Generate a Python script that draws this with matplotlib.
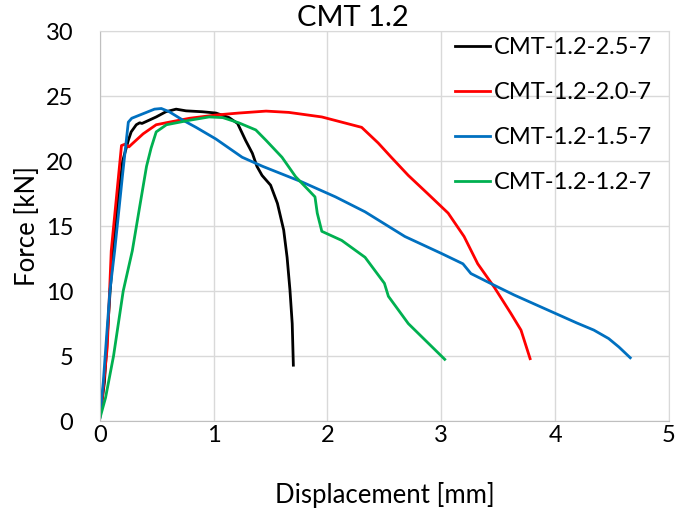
import matplotlib
matplotlib.use("Agg")
import matplotlib.pyplot as plt

plt.rcParams['font.family'] = ['Lato', 'DejaVu Sans']

title = "CMT 1.2"
xlabel = "Displacement [mm]"
ylabel = "Force [kN]"

labels = ["CMT-1.2-2.5-7", "CMT-1.2-2.0-7", "CMT-1.2-1.5-7", "CMT-1.2-1.2-7"]
colors = ["#000000", "#ff0000", "#0070c0", "#00b050"]

black_x = [0.0, 0.04, 0.09, 0.14, 0.2, 0.25, 0.275, 0.32, 0.35, 0.37, 0.42, 0.495, 0.58, 0.67, 0.757,
           0.9, 1.02, 1.135, 1.21, 1.28, 1.34, 1.38, 1.425, 1.5, 1.56, 1.615, 1.645, 1.67, 1.69, 1.70]
black_y = [0.3, 3.0, 10.0, 15.5, 20.0, 21.6, 22.25, 22.8, 22.95, 22.9, 23.1, 23.4, 23.8, 24.0, 23.87,
           23.8, 23.7, 23.35, 22.9, 21.6, 20.6, 19.6, 18.9, 18.15, 16.75, 14.7, 12.6, 10.1, 7.5, 4.3]

red_x = [0.0, 0.02, 0.065, 0.1, 0.19, 0.22, 0.256, 0.28, 0.38, 0.495, 0.61, 0.79, 1.02, 1.22, 1.46,
         1.66, 1.95, 2.3, 2.445, 2.56, 2.71, 2.88, 3.06, 3.2, 3.32, 3.465, 3.61, 3.7, 3.78]
red_y = [0.5, 1.6, 5.7, 13.1, 21.2, 21.3, 21.1, 21.3, 22.1, 22.8, 23.0, 23.3, 23.55, 23.7, 23.85,
         23.75, 23.4, 22.6, 21.4, 20.3, 18.9, 17.5, 16.0, 14.2, 12.1, 10.3, 8.3, 7.0, 4.8]

blue_x = [0.0, 0.03, 0.088, 0.13, 0.2, 0.25, 0.28, 0.38, 0.48, 0.54, 0.61, 0.73, 0.845, 1.02, 1.25,
          1.43, 1.66, 1.775, 2.07, 2.33, 2.68, 3.0, 3.19, 3.26, 3.465, 3.64, 3.87, 4.19, 4.34, 4.47,
          4.56, 4.66]
blue_y = [0.3, 3.0, 10.0, 13.1, 19.0, 23.0, 23.3, 23.65, 24.0, 24.05, 23.8, 23.15, 22.6, 21.7, 20.3,
          19.6, 18.8, 18.4, 17.25, 16.1, 14.2, 12.9, 12.1, 11.35, 10.45, 9.7, 8.8, 7.55, 7.0, 6.35,
          5.7, 4.87]

green_x = [0.0, 0.05, 0.12, 0.205, 0.285, 0.35, 0.41, 0.45, 0.495, 0.585, 0.79, 0.96, 1.08, 1.22, 1.37,
           1.46, 1.6, 1.72, 1.83, 1.89, 1.91, 1.95, 2.125, 2.33, 2.5, 2.535, 2.71, 3.03]
green_y = [0.2, 1.8, 5.0, 10.0, 13.1, 16.5, 19.6, 21.0, 22.25, 22.8, 23.15, 23.4, 23.35, 22.95, 22.4,
           21.6, 20.3, 18.8, 17.8, 17.25, 16.0, 14.6, 13.9, 12.6, 10.6, 9.6, 7.5, 4.75]

series_x = [black_x, red_x, blue_x, green_x]
series_y = [black_y, red_y, blue_y, green_y]

xticks = [0, 1, 2, 3, 4, 5]
yticks = [0, 5, 10, 15, 20, 25, 30]

fig = plt.figure(figsize=(6.84, 5.11), dpi=100)
ax = fig.add_axes([0.146, 0.176, 0.832, 0.763])

for xs, ys, c, lab in zip(series_x, series_y, colors, labels):
    ax.plot(xs, ys, color=c, lw=2.0, label=lab, solid_joinstyle='round')

ax.set_xlim(0, 5)
ax.set_ylim(0, 30)
ax.set_xticks(xticks)
ax.set_yticks(yticks)
ax.tick_params(length=0, labelsize=17)
ax.tick_params(axis='x', pad=3)
ax.tick_params(axis='y', pad=19)
ax.grid(True, color="#d9d9d9", lw=1)
ax.set_axisbelow(True)
for s in ax.spines.values():
    s.set_color("#d9d9d9")
ax.spines['bottom'].set_color("#bfbfbf")
ax.spines['left'].set_color("#bfbfbf")

fig.text(353 / 684, 1 - 18 / 511, title, fontsize=21, ha='center', va='center')
ax.set_xlabel(xlabel, fontsize=18.5)
ax.set_ylabel(ylabel, fontsize=18.5)
ax.xaxis.label.set_va('center')
ax.yaxis.label.set_va('center')
ax.xaxis.set_label_coords(0.5, (421 - 495) / 390)
ax.yaxis.set_label_coords((27.5 - 100) / 569, 0.5)

leg = ax.legend(loc='upper left', bbox_to_anchor=((455 - 100) / 569, (421 - 37) / 390),
                frameon=False, fontsize=17, handlelength=1.48, handletextpad=0.15,
                labelspacing=1.02, borderaxespad=0, borderpad=0)
for h in leg.get_lines():
    h.set_linewidth(2.0)

fig.savefig("out.png", dpi=100)
